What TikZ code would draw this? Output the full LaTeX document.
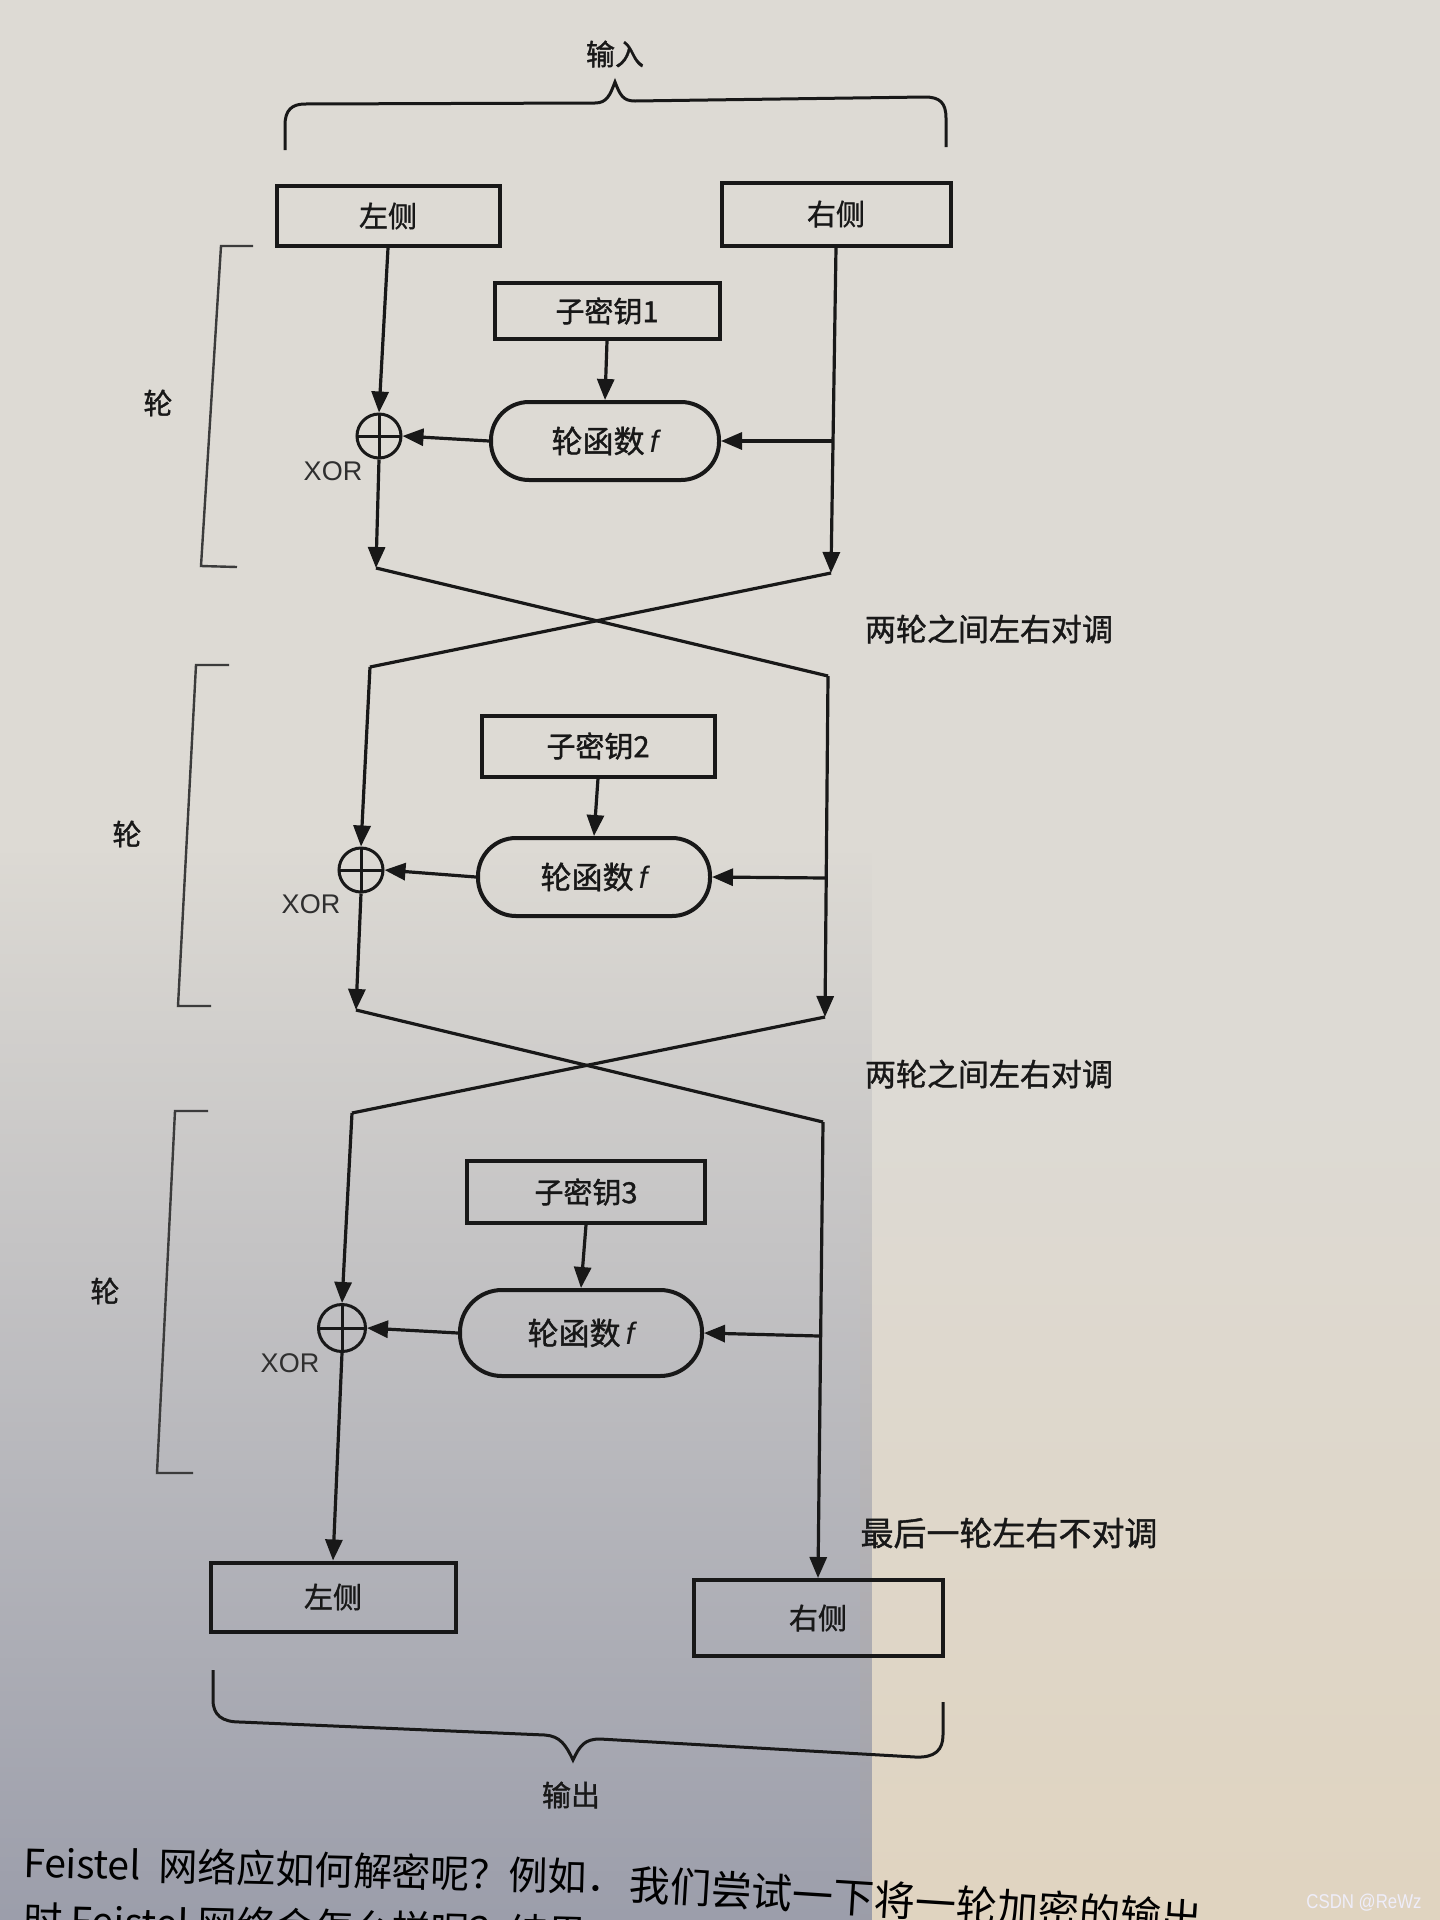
\documentclass[tikz,border=0pt]{standalone}
\usepackage{fontspec}
\setmainfont{Liberation Sans}
\newfontfamily\cjk{Noto Sans CJK SC}
\newfontfamily\cjkb[FakeBold=1.2]{Noto Sans CJK SC}
\newfontfamily\lib{Liberation Sans}
\usetikzlibrary{arrows.meta,fadings}
\definecolor{paper}{RGB}{221,218,212}
\definecolor{shadowc}{RGB}{148,151,166}
\definecolor{warm}{RGB}{224,212,192}
\definecolor{ink}{RGB}{24,24,24}
\tikzfading[name=shadowfade, top color=transparent!100, bottom color=transparent!0]
\tikzset{
  box/.style={draw=ink, line width=4pt, font=\cjkb\fontsize{29}{34}\selectfont, text=ink, inner sep=0pt},
  func/.style={draw=ink, line width=4pt, rounded corners=38pt, font=\cjkb\fontsize{31}{36}\selectfont, text=ink, inner sep=0pt},
  xorc/.style={circle, draw=ink, line width=3pt, minimum size=44pt, inner sep=0pt,
    path picture={\draw[line width=3pt, ink] (path picture bounding box.north) -- (path picture bounding box.south)
      (path picture bounding box.west) -- (path picture bounding box.east);}},
  flow/.style={line width=3.2pt, draw=ink},
  arr/.style={flow, -{Triangle[length=21pt,width=17pt]}},
  brk/.style={line width=2.4pt, draw=ink!85},
  brace/.style={line width=3pt, draw=ink},
  lbl/.style={font=\cjkb\fontsize{29}{34}\selectfont, text=ink},
  side/.style={font=\cjkb\fontsize{31}{36}\selectfont, text=ink},
  xorlbl/.style={font=\lib\fontsize{27}{32}\selectfont, text=ink!90},
  para/.style={font=\cjk\fontsize{39}{44}\selectfont, text=black, anchor=base west, inner sep=0pt}
}
\begin{document}
\begin{tikzpicture}[x=1pt,y=-1pt]
\useasboundingbox (0,0) rectangle (1440,1920);
\clip (0,0) rectangle (1440,1920);
% paper background
\fill[paper] (0,0) rectangle (1440,1920);
\shade[top color=paper, bottom color=warm] (860,1100) rectangle (1440,1920);
% shadow over the lower left of the page
\fill[shadowc, path fading=shadowfade] (0,850) rectangle (872,2050);

% input brace
\draw[brace] (285,150) -- (285,125) .. controls (285,110) and (292,104) .. (305,104) -- (595,103)
  .. controls (607,103) and (610,95) .. (615,82) .. controls (620,95) and (623,101) .. (635,101)
  -- (925,97) .. controls (940,97) and (946,103) .. (946,118) -- (946,147);
\node[lbl] (inlabel) at (615,54) {输入};

% top boxes
\node[box, minimum width=223pt, minimum height=60pt] (inL) at (388,216) {左侧};
\node[box, minimum width=229pt, minimum height=63pt] (inR) at (836,214) {右侧};

% ===== round 1 =====
\node[box, minimum width=225pt, minimum height=56pt] (k1) at (607,311) {子密钥1};
\node[func, minimum width=228pt, minimum height=78pt] (f1) at (605,441) {轮函数\,{\lib\itshape f}};
\node[xorc] (x1) at (379,436) {};
\node[xorlbl] (xl1) at (333,471) {XOR};
\coordinate (c1L) at (376,568);
\coordinate (c1R) at (831,573);
\coordinate (b1) at (833,441);
\draw[arr] (inL.south) -- (x1.north);
\draw[arr] (x1.south) -- (c1L);
\draw[arr] (inR.south) -- (c1R);
\draw[arr] (b1) -- (f1.east);
\draw[arr] (f1.west) -- (x1.east);
\draw[arr] (k1.south) -- (f1.north);
\draw[brk] (253,246) -- (221,246) -- (201,566) -- (237,567);
\node[lbl] (r1) at (158,403) {轮};

% swap 1
\coordinate (d1L) at (370,667);
\coordinate (d1R) at (828,676);
\draw[flow] (c1L) -- (d1R);
\draw[flow] (c1R) -- (d1L);
\node[side] (s1) at (989,629) {两轮之间左右对调};

% ===== round 2 =====
\node[box, minimum width=233pt, minimum height=61pt] (k2) at (598,746) {子密钥2};
\node[func, minimum width=232pt, minimum height=78pt] (f2) at (594,877) {轮函数\,{\lib\itshape f}};
\node[xorc] (x2) at (361,870) {};
\node[xorlbl] (xl2) at (311,904) {XOR};
\coordinate (c2L) at (356,1010);
\coordinate (c2R) at (825,1017);
\coordinate (b2) at (826,878);
\draw[arr] (d1L) -- (x2.north);
\draw[arr] (x2.south) -- (c2L);
\draw[arr] (d1R) -- (c2R);
\draw[arr] (b2) -- (f2.east);
\draw[arr] (f2.west) -- (x2.east);
\draw[arr] (k2.south) -- (f2.north);
\draw[brk] (229,665) -- (196,665) -- (178,1006) -- (211,1006);
\node[lbl] (r2) at (127,834) {轮};

% swap 2
\coordinate (d2L) at (352,1113);
\coordinate (d2R) at (823,1122);
\draw[flow] (c2L) -- (d2R);
\draw[flow] (c2R) -- (d2L);
\node[side] (s2) at (989,1074) {两轮之间左右对调};

% ===== round 3 =====
\node[box, minimum width=238pt, minimum height=62pt] (k3) at (586,1192) {子密钥3};
\node[func, minimum width=242pt, minimum height=86pt, rounded corners=42pt] (f3) at (581,1333) {轮函数\,{\lib\itshape f}};
\node[xorc, minimum size=47pt] (x3) at (342,1328) {};
\node[xorlbl] (xl3) at (290,1363) {XOR};
\coordinate (b3) at (819,1336);

% output boxes
\node[box, minimum width=245pt, minimum height=69pt] (outL) at (333,1597) {左侧};
\node[box, minimum width=249pt, minimum height=76pt] (outR) at (818,1618) {右侧};

\draw[arr] (d2L) -- (x3.north);
\draw[arr] (x3.south) -- (outL.north);
\draw[arr] (d2R) -- (outR.north);
\draw[arr] (b3) -- (f3.east);
\draw[arr] (f3.west) -- (x3.east);
\draw[arr] (k3.south) -- (f3.north);
\draw[brk] (208,1111) -- (175,1111) -- (157,1473) -- (193,1473);
\node[lbl] (r3) at (105,1291) {轮};
\node[side, font=\cjkb\fontsize{33}{38}\selectfont] (s3) at (1009,1533) {最后一轮左右不对调};

% output brace
\draw[brace] (213,1670) -- (213,1700) .. controls (213,1715) and (222,1722) .. (240,1722) -- (545,1735)
  .. controls (560,1736) and (566,1745) .. (573,1760) .. controls (580,1745) and (585,1739) .. (600,1739)
  -- (915,1757) .. controls (935,1758) and (943,1750) .. (943,1735) -- (943,1702);
\node[lbl] (outlabel) at (571,1795) {输出};

% page text below the figure (the page curves, so the line bends)
\node[para, rotate=-1.5] (p1) at (23,1877) {Feistel\ \ 网络应如何解密呢？例如．};
\node[para, font=\cjk\fontsize{41}{46}\selectfont, rotate=-3.6] (p1b) at (628,1899) {我们尝试一下将一轮加密的输出};
\node[para, rotate=-1.5] (p2) at (23,1934) {时 Feistel 网络会怎么样呢？结果};

% watermark
\node[font=\lib\fontsize{20}{24}\selectfont, text=white!94!blue, opacity=0.92, inner sep=0pt] (wm) at (1364,1903) {\scalebox{0.84}[1]{CSDN @ReWz}};
\end{tikzpicture}
\end{document}
